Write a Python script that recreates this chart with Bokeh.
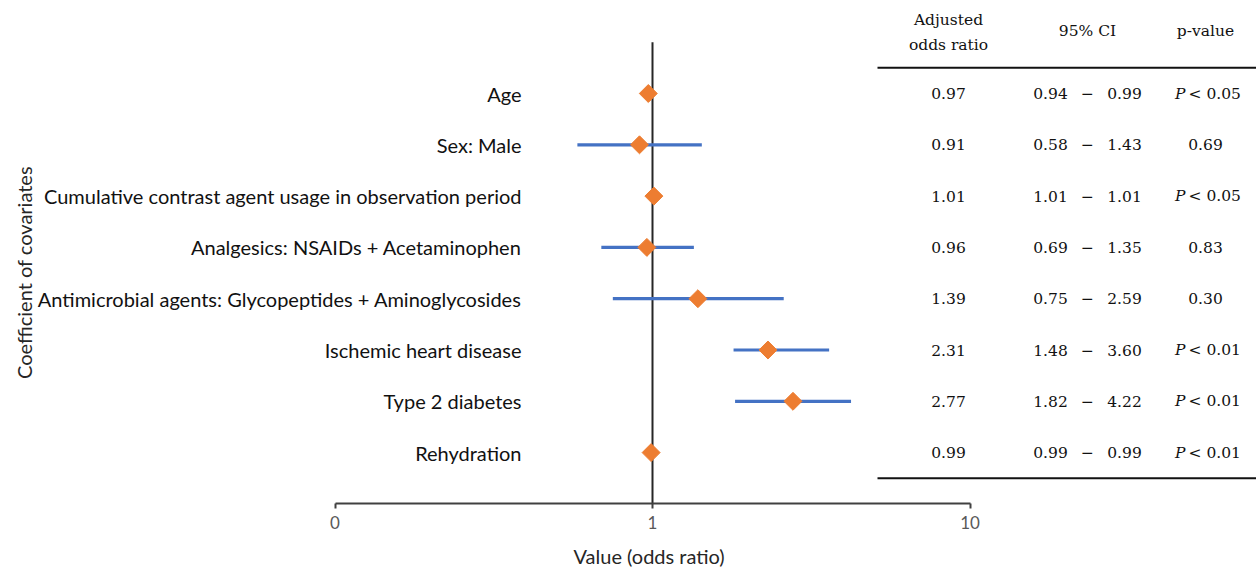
import math
from bokeh.plotting import figure
from bokeh.models import (Range1d, LinearScale, FixedTicker, CustomJSTickFormatter,
                          ColumnDataSource, Label, Title)
from bokeh.core.properties import value
from bokeh.embed import file_html
from bokeh.resources import INLINE

# ---------------- data ----------------
covariates = [
    "Age",
    "Sex: Male",
    "Cumulative contrast agent usage in observation period",
    "Analgesics: NSAIDs + Acetaminophen",
    "Antimicrobial agents: Glycopeptides + Aminoglycosides",
    "Ischemic heart disease",
    "Type 2 diabetes",
    "Rehydration",
]
odds_ratio = [0.97, 0.91, 1.01, 0.96, 1.39, 2.31, 2.77, 0.99]
ci_lower = [0.94, 0.58, 1.01, 0.69, 0.75, 1.48, 1.82, 0.99]
ci_upper = [0.99, 1.43, 1.01, 1.35, 2.59, 3.60, 4.22, 0.99]
# whisker ends as drawn in the picture (the Ischemic heart disease whisker starts near 1.8)
ci_lower_drawn = [0.94, 0.58, 1.01, 0.69, 0.75, 1.80, 1.82, 0.99]
p_values = ["P < 0.05", "0.69", "P < 0.05", "0.83", "0.30", "P < 0.01", "P < 0.01", "P < 0.01"]
x_ticks = [0.1, 1, 10]
x_tick_labels = ["0", "1", "10"]
null_value = 1
header_or = ["Adjusted", "odds ratio"]
header_ci = "95% CI"
header_p = "p-value"
x_title = "Value (odds ratio)"
y_title = "Coefficient of covariates"

# ---------------- layout ----------------
W, H = 1256, 579
B = 76            # bottom border
px_one, px_decade = 652, 317.5
x_start = 10 ** ((0 - px_one) / px_decade)
x_end = 10 ** ((W - px_one) / px_decade)
row0, row_gap = 93, 51.3
frame_h = H - B
y_bottom = (frame_h - row0) / row_gap
y_top = -row0 / row_gap
rows = list(range(len(covariates)))

p = figure(width=W, height=H, x_axis_type="log",
           x_range=Range1d(x_start, x_end), y_range=Range1d(y_bottom, y_top),
           output_backend="svg", toolbar_location=None,
           min_border_left=0, min_border_right=0, min_border_top=0, min_border_bottom=B)
p.extra_x_ranges = {"tbl": Range1d(0, W)}
p.extra_x_scales = {"tbl": LinearScale()}
p.grid.visible = False
p.yaxis.visible = False
p.outline_line_color = None
p.background_fill_color = "white"
p.border_fill_color = "white"

# x axis
xa = p.xaxis[0]
xa.ticker = FixedTicker(ticks=x_ticks)
xa.formatter = CustomJSTickFormatter(
    args=dict(tick_vals=x_ticks, tick_text=x_tick_labels),
    code="""
    for (let i = 0; i < tick_vals.length; i++) {
        if (Math.abs(Math.log10(tick_vals[i]) - Math.log10(tick)) < 1e-6) return tick_text[i];
    }
    return "";
    """)
xa.bounds = (x_ticks[0], x_ticks[-1])
xa.axis_line_color = "#404040"
xa.axis_line_width = 2
xa.major_tick_line_color = "#404040"
xa.major_tick_line_width = 2
xa.major_tick_out = 5
xa.major_tick_in = 0
xa.minor_tick_line_color = None
xa.major_label_text_font = "Lato"
xa.major_label_text_font_size = "17px"
xa.major_label_text_color = "#595959"
xa.major_label_standoff = 7

# x title below the axis, shifted so that it sits under the middle of the axis span
p.add_layout(Title(text=x_title, align="left", offset=573, standoff=21,
                   text_font="Lato", text_font_size="20px", text_font_style="normal",
                   text_line_height=1.0, text_color="#262626"), "below")

# y title
p.add_layout(Label(x=23, y=(272 - row0) / row_gap, x_range_name="tbl", text=y_title,
                   angle=math.pi / 2, text_align="center", text_baseline="middle",
                   text_font="Lato", text_font_size="20px", text_color="#262626"))

# reference line at null value
p.segment(x0=[null_value], x1=[null_value], y0=[-1.0], y1=[y_bottom],
          line_color="#262626", line_width=2)

# CI lines and point estimates
src = ColumnDataSource(dict(row=rows, lo=ci_lower_drawn, hi=ci_upper, est=odds_ratio,
                            name=covariates))
p.segment(x0="lo", x1="hi", y0="row", y1="row", source=src,
          line_color="#4472C4", line_width=3.2)
p.scatter(x="est", y="row", source=src, marker="square", angle=math.pi / 4,
          size=12.7, fill_color="#ED7D31", line_color="#ED7D31")

# category labels
p.text(x=521, y="row", text="name", source=src, x_range_name="tbl",
       text_align="right", text_baseline="middle", text_font=value("Lato"),
       text_font_size="20px", text_color="#111111")

# table
serif = value("DejaVu Serif")
fs = "15.5px"
col_or, col_lo, col_dash, col_hi, col_p = 948, 1050, 1087, 1124, 1205

p.text(x=[col_or, col_or], y=[-1.44, -0.955], text=header_or, x_range_name="tbl",
       text_align="center", text_baseline="middle", text_font=serif, text_font_size=fs,
       text_color="#111111")
p.text(x=[col_dash, col_p], y=[-1.21, -1.21], text=[header_ci, header_p], x_range_name="tbl",
       text_align="center", text_baseline="middle", text_font=serif, text_font_size=fs,
       text_color="#111111")
p.segment(x0=[877, 877], x1=[W, W], y0=[-0.5, len(rows) - 0.5], y1=[-0.5, len(rows) - 0.5],
          x_range_name="tbl", line_color="#111111", line_width=2)

tsrc = ColumnDataSource(dict(
    row=rows,
    or_txt=[f"{v:.2f}" for v in odds_ratio],
    lo_txt=[f"{v:.2f}" for v in ci_lower],
    hi_txt=[f"{v:.2f}" for v in ci_upper],
    dash=["\u2212"] * len(rows),
))
for xpos, tcol in [(col_or, "or_txt"), (col_lo, "lo_txt"), (col_dash, "dash"), (col_hi, "hi_txt")]:
    p.text(x=xpos, y="row", text=tcol, source=tsrc, x_range_name="tbl",
           text_align="center", text_baseline="middle", text_font=serif,
           text_font_size=fs, text_color="#111111")

sig_rows = [r for r, s in zip(rows, p_values) if s.startswith("P")]
sig_rest = [s[1:].strip() for s in p_values if s.startswith("P")]
plain_rows = [r for r, s in zip(rows, p_values) if not s.startswith("P")]
plain_txt = [s for s in p_values if not s.startswith("P")]

p.text(x=[1185] * len(sig_rows), y=sig_rows, text=["P"] * len(sig_rows), x_range_name="tbl",
       text_align="right", text_baseline="middle", text_font=serif, text_font_size=fs,
       text_font_style="italic", text_color="#111111")
p.text(x=[1188] * len(sig_rows), y=sig_rows, text=sig_rest, x_range_name="tbl",
       text_align="left", text_baseline="middle", text_font=serif, text_font_size=fs,
       text_color="#111111")
p.text(x=[col_p] * len(plain_rows), y=plain_rows, text=plain_txt, x_range_name="tbl",
       text_align="center", text_baseline="middle", text_font=serif, text_font_size=fs,
       text_color="#111111")

open("out.html", "w").write(file_html(p, INLINE))
